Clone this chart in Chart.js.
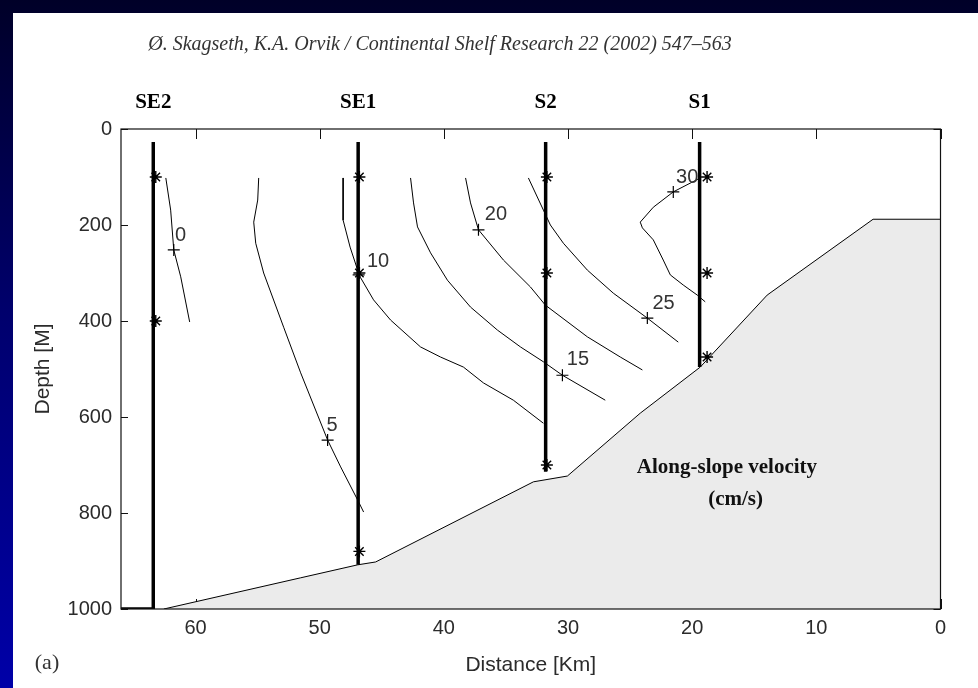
<!DOCTYPE html>
<html>
<head>
<meta charset="utf-8">
<script src="https://cdn.jsdelivr.net/npm/chart.js@4.4.1/dist/chart.umd.min.js"></script>
<style>
  html, body { margin: 0; padding: 0; }
  body {
    width: 978px; height: 688px; overflow: hidden; position: relative;
    background: linear-gradient(to bottom, #000028 0%, #00006c 45%, #0000a8 100%);
  }
  #sheet { position: absolute; left: 13px; top: 13px; right: 0; bottom: 0; background: #fff; }
  #wrap { position: absolute; left: 0; top: 0; width: 978px; height: 688px; }
</style>
</head>
<body>
<div id="sheet"></div>
<div id="wrap"><canvas id="section"></canvas></div>
<script>
const SANS = '"Liberation Sans", Arial, sans-serif';
const SERIF = '"Liberation Serif", "Times New Roman", serif';

// axes
const distanceTicks = [0, 10, 20, 30, 40, 50, 60];
const depthTicks = [0, 200, 400, 600, 800, 1000];

// mooring stations (km from shelf edge, mooring line extent in m)
const stationNames = ['SE2', 'SE1', 'S2', 'S1'];
const stationKm = [63.4, 46.9, 31.8, 19.4];
const stationTop = [27, 27, 27, 27];
const stationBottom = [1000, 908, 714, 496];

// current meters on the moorings
const meterKm = [63.2, 63.2, 46.8, 46.8, 46.8, 31.7, 31.7, 31.7, 18.8, 18.8, 18.8];
const meterDepth = [100, 400, 100, 300, 880, 100, 300, 700, 100, 300, 475];

// bottom topography
const bottomKm = [62.55, 51.53, 46.94, 45.49, 32.78, 30.05, 24.18, 19.35, 13.96, 5.43, 0];
const bottomDepth = [1000, 935, 908, 902, 735, 723, 592, 496, 346, 188, 188];

// isotachs of along-slope velocity (cm/s)
const iso0Km = [62.39, 62.0, 61.75, 61.19, 60.47];
const iso0Depth = [102, 169, 252, 308, 402];
const iso5Km = [54.91, 54.99, 55.31, 55.15, 54.51, 52.9, 51.53, 49.36, 48.31, 46.94, 46.46];
const iso5Depth = [102, 148, 194, 238, 300, 413, 508, 648, 704, 773, 798];
const iso10Km = [48.11, 48.11, 47.55, 46.94, 46.7, 45.66, 44.29, 41.88, 40.27, 38.42, 36.81, 34.4, 31.98];
const iso10Depth = [102, 190, 246, 294, 310, 356, 398, 454, 475, 496, 529, 565, 613];
const iso15Km = [42.68, 42.44, 42.12, 41.07, 39.71, 37.85, 35.68, 33.83, 31.98, 30.45, 27.0];
const iso15Depth = [102, 154, 204, 258, 315, 371, 419, 454, 485, 513, 565];
const iso20Km = [38.25, 37.85, 37.21, 35.2, 33.03, 31.82, 28.44, 25.79, 24.01];
const iso20Depth = [102, 154, 210, 273, 329, 367, 433, 475, 502];
const iso25Km = [33.19, 31.98, 31.42, 30.37, 28.44, 26.35, 23.61, 21.12];
const iso25Depth = [102, 169, 200, 238, 294, 342, 394, 444];
const iso30Km = [19.35, 21.52, 23.13, 24.18, 24.01, 23.13, 22.33, 21.76, 20.72, 19.59, 18.95];
const iso30Depth = [102, 131, 163, 194, 206, 231, 273, 304, 325, 346, 360];

// contour labels and their "+" tags
const contourLevels = ['0', '5', '10', '15', '20', '25', '30'];
const labelKm = [61.2, 49.0, 45.3, 29.2, 35.8, 22.3, 20.4];
const labelDepth = [221, 617, 277, 481, 179, 363, 102];
const tagKm = [61.75, 49.36, 46.86, 30.45, 37.21, 23.61, 21.52];
const tagDepth = [252, 648, 304, 513, 210, 394, 131];

const pts = (xs, ys) => xs.map((v, i) => ({x: v, y: ys[i]}));

const lineStyle = {
  borderColor: '#000', pointRadius: 0, tension: 0, fill: false,
  borderJoinStyle: 'round'
};

const datasets = [];

datasets.push({
  ...lineStyle,
  data: pts(bottomKm, bottomDepth),
  borderWidth: 1,
  backgroundColor: '#ebebeb',
  fill: {value: 1000},
  order: 2
});

stationKm.forEach((km, i) => {
  const d = [{x: km, y: stationTop[i]}, {x: km, y: stationBottom[i]}];
  if (i === 0) d.push({x: 66, y: 1000});
  datasets.push({...lineStyle, data: d, borderWidth: 3.5, borderCapStyle: 'butt', borderJoinStyle: 'miter'});
});

[[iso0Km, iso0Depth], [iso5Km, iso5Depth], [iso10Km, iso10Depth], [iso15Km, iso15Depth],
 [iso20Km, iso20Depth], [iso25Km, iso25Depth], [iso30Km, iso30Depth]].forEach(([k, d]) => {
  datasets.push({...lineStyle, data: pts(k, d), borderWidth: 1});
});

datasets.push({
  data: pts(tagKm, tagDepth), showLine: false,
  pointStyle: 'cross', pointRadius: 6, borderColor: '#000', borderWidth: 1.2
});

datasets.push({
  data: pts(meterKm, meterDepth), showLine: false,
  pointStyle: 'star', pointRadius: 6, borderColor: '#000', borderWidth: 1.4
});

// box, inward ticks and the annotations
const sectionDecor = {
  id: 'sectionDecor',
  beforeDatasetsDraw(chart) {
    const {ctx, chartArea: a, scales: {x, y}} = chart;
    ctx.save();
    ctx.strokeStyle = '#111';
    ctx.lineWidth = 1;
    ctx.beginPath();
    distanceTicks.forEach(v => {
      const px = Math.round(x.getPixelForValue(v)) + 0.5;
      ctx.moveTo(px, a.top); ctx.lineTo(px, a.top + 10);
      ctx.moveTo(px, a.bottom); ctx.lineTo(px, a.bottom - 10);
    });
    depthTicks.forEach(v => {
      const py = Math.round(y.getPixelForValue(v)) + 0.5;
      ctx.moveTo(a.left, py); ctx.lineTo(a.left + 7, py);
      ctx.moveTo(a.right, py); ctx.lineTo(a.right - 7, py);
    });
    ctx.stroke();
    ctx.restore();
  },
  afterDatasetsDraw(chart) {
    const {ctx, chartArea: a, scales: {x, y}} = chart;
    ctx.save();
    ctx.strokeStyle = '#111';
    ctx.lineWidth = 1.2;
    ctx.strokeRect(a.left, a.top, a.right - a.left, a.bottom - a.top);

    ctx.textAlign = 'center';
    ctx.textBaseline = 'middle';

    ctx.fillStyle = '#333';
    ctx.font = '20px ' + SANS;
    contourLevels.forEach((t, i) => {
      ctx.fillText(t, x.getPixelForValue(labelKm[i]), y.getPixelForValue(labelDepth[i]));
    });

    ctx.fillStyle = '#000';
    ctx.font = 'bold 21px ' + SERIF;
    stationNames.forEach((t, i) => {
      ctx.fillText(t, x.getPixelForValue(stationKm[i]), a.top - 26);
    });

    ctx.font = 'bold 21px ' + SERIF;
    ctx.fillStyle = '#111';
    ctx.fillText('Along-slope velocity', x.getPixelForValue(17.2), y.getPixelForValue(706));
    ctx.fillText('(cm/s)', x.getPixelForValue(16.5), y.getPixelForValue(773));

    ctx.fillStyle = '#333';
    ctx.font = 'italic 20px ' + SERIF;
    ctx.fillText('\u00D8. Skagseth, K.A. Orvik / Continental Shelf Research 22 (2002) 547\u2013563', 440, 45);

    ctx.font = '22px ' + SERIF;
    ctx.fillText('(a)', 47, 663);
    ctx.restore();
  }
};

new Chart(document.getElementById('section'), {
  type: 'line',
  data: {datasets},
  options: {
    responsive: true,
    maintainAspectRatio: false,
    animation: false,
    layout: {padding: {top: 129, right: 37.5, bottom: 0, left: 0}},
    plugins: {legend: {display: false}, tooltip: {enabled: false}},
    events: [],
    scales: {
      x: {
        type: 'linear', reverse: true, min: 0, max: 66,
        afterBuildTicks: s => { s.ticks = distanceTicks.map(v => ({value: v})); },
        afterFit: s => { s.height = 79; },
        grid: {display: false, drawTicks: false},
        border: {display: false},
        ticks: {padding: 7, color: '#2b2b2b', font: {family: SANS, size: 20},
                callback: v => String(v)},
        title: {display: true, text: 'Distance [Km]', color: '#2b2b2b',
                font: {family: SANS, size: 21}, padding: {top: 0, bottom: 10}}
      },
      y: {
        type: 'linear', reverse: true, min: 0, max: 1000,
        afterBuildTicks: s => { s.ticks = depthTicks.map(v => ({value: v})); },
        afterFit: s => { s.width = 121; },
        grid: {display: false, drawTicks: false},
        border: {display: false},
        ticks: {padding: 9, color: '#2b2b2b', font: {family: SANS, size: 20},
                callback: v => String(v)},
        title: {display: true, text: 'Depth [M]', color: '#2b2b2b',
                font: {family: SANS, size: 21}, padding: {top: 31, bottom: 0}}
      }
    }
  },
  plugins: [sectionDecor]
});
</script>
</body>
</html>
